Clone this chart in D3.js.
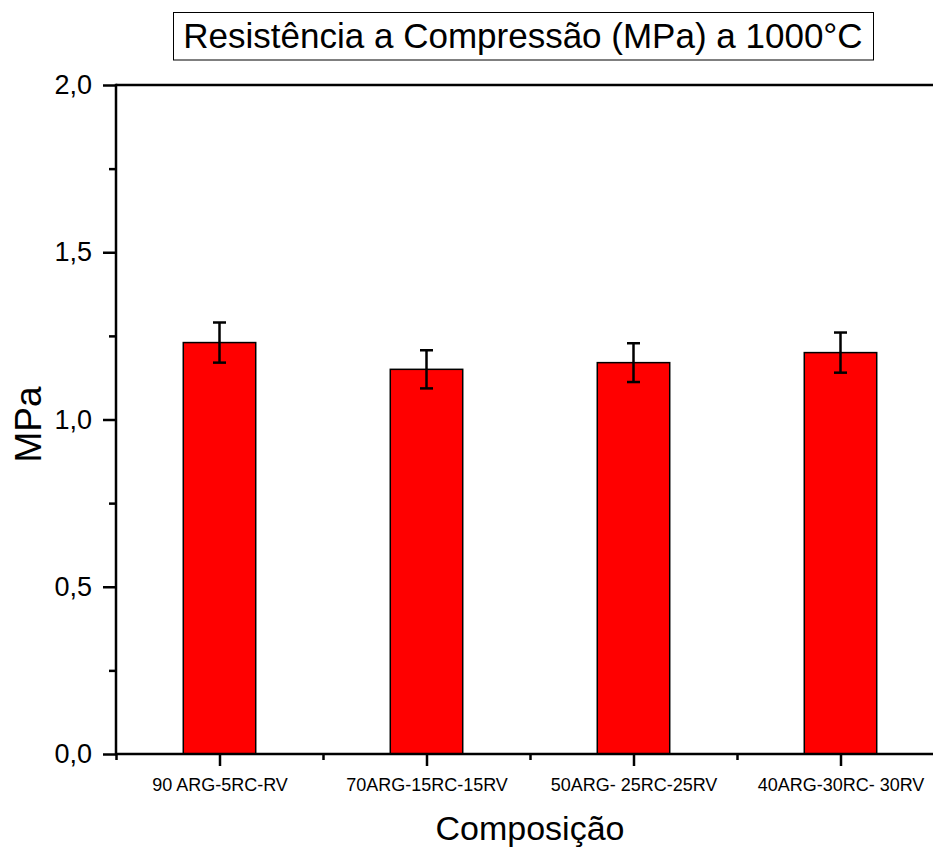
<!DOCTYPE html>
<html>
<head>
<meta charset="utf-8">
<script src="https://cdn.jsdelivr.net/npm/d3@7"></script>
<style>
  html, body { margin: 0; padding: 0; background: #fff; }
  svg { display: block; font-family: Arial, "Liberation Sans", sans-serif; }
</style>
</head>
<body>
<svg id="chart" width="933" height="847"></svg>
<script>
const categories = ["90 ARG-5RC-RV", "70ARG-15RC-15RV", "50ARG- 25RC-25RV", "40ARG-30RC- 30RV"];
const values = [1.23, 1.15, 1.17, 1.20];
const errors = [0.06, 0.057, 0.058, 0.06];
const yMajorTicks = [0, 0.5, 1.0, 1.5, 2.0];
const yMinorTicks = [0.25, 0.75, 1.25, 1.75];
const titleText = "Resistência a Compressão (MPa) a 1000°C";
const xTitle = "Composição";
const yTitle = "MPa";

(function () {
const svg = d3.select("#chart");
const FONT = "Arial, 'Liberation Sans', sans-serif";
const pL = 116, pR = 944, pT = 85, pB = 754;

const x = d3.scaleLinear().domain([0.5, categories.length + 0.5]).range([pL, pR]);
const y = d3.scaleLinear().domain([0, 2]).range([pB, pT]);
const barW = x(1.35) - x(1);
const fmt = d => d3.format(".1f")(d).replace(".", ",");

// bars
svg.append("g").selectAll("rect").data(values).join("rect")
  .attr("x", (d, i) => x(i + 1) - barW / 2)
  .attr("y", d => y(d))
  .attr("width", barW)
  .attr("height", d => y(0) - y(d))
  .attr("fill", "#ff0000")
  .attr("stroke", "#000")
  .attr("stroke-width", 1.5);

// error bars
const eg = svg.append("g").attr("stroke", "#000").attr("stroke-width", 2.5);
values.forEach((v, i) => {
  const cx = x(i + 1), cw = 6.5;
  eg.append("line").attr("x1", cx).attr("x2", cx).attr("y1", y(v + errors[i])).attr("y2", y(v - errors[i]));
  eg.append("line").attr("x1", cx - cw).attr("x2", cx + cw).attr("y1", y(v + errors[i])).attr("y2", y(v + errors[i]));
  eg.append("line").attr("x1", cx - cw).attr("x2", cx + cw).attr("y1", y(v - errors[i])).attr("y2", y(v - errors[i]));
});

// y axis
const yAxis = svg.append("g").attr("transform", `translate(${pL},0)`)
  .call(d3.axisLeft(y).tickValues(yMajorTicks).tickFormat(fmt).tickSize(13).tickPadding(11));
const yMinor = svg.append("g").attr("transform", `translate(${pL},0)`)
  .call(d3.axisLeft(y).tickValues(yMinorTicks).tickFormat("").tickSize(7));
// x axis
const xAxis = svg.append("g").attr("transform", `translate(0,${pB})`)
  .call(d3.axisBottom(x).tickValues(categories.map((c, i) => i + 1)).tickFormat((d) => categories[d - 1]).tickSize(12).tickPadding(12));
const xMinor = svg.append("g").attr("transform", `translate(0,${pB})`)
  .call(d3.axisBottom(x).tickValues(d3.range(0.5, categories.length + 1, 1)).tickFormat("").tickSize(6));

[yAxis, yMinor, xAxis, xMinor].forEach(g => {
  g.select(".domain").remove();
  g.selectAll(".tick line").attr("stroke", "#000").attr("stroke-width", 2.5);
});
yAxis.selectAll(".tick text").attr("font-size", 27).attr("fill", "#000").attr("font-family", FONT);
xAxis.selectAll(".tick text").attr("font-size", 18).attr("fill", "#000").attr("font-family", FONT);

// frame lines
const fr = svg.append("g").attr("stroke", "#000").attr("stroke-width", 2.5);
fr.append("line").attr("x1", pL).attr("x2", pR).attr("y1", pT).attr("y2", pT);
fr.append("line").attr("x1", pL).attr("x2", pR).attr("y1", pB).attr("y2", pB);
fr.append("line").attr("x1", pL).attr("x2", pL).attr("y1", pT - 1.25).attr("y2", pB + 1.25);
fr.append("line").attr("x1", pR).attr("x2", pR).attr("y1", pT).attr("y2", pB);

// title
svg.append("rect").attr("x", 173.5).attr("y", 12.5).attr("width", 700).attr("height", 47.5)
  .attr("fill", "#fff").attr("stroke", "#000").attr("stroke-width", 1);
svg.append("text").attr("x", 523).attr("y", 48).attr("text-anchor", "middle")
  .attr("font-size", 35).attr("fill", "#000").attr("font-family", FONT).text(titleText);

// axis titles
svg.append("text").attr("x", x(2.5)).attr("y", 840).attr("text-anchor", "middle")
  .attr("font-size", 34).attr("fill", "#000").attr("font-family", FONT).text(xTitle);
svg.append("text").attr("transform", `translate(41,${(pT + pB) / 2 + 5}) rotate(-90)`)
  .attr("text-anchor", "middle").attr("font-size", 37).attr("fill", "#000").attr("font-family", FONT).text(yTitle);
})();
</script>
</body>
</html>
